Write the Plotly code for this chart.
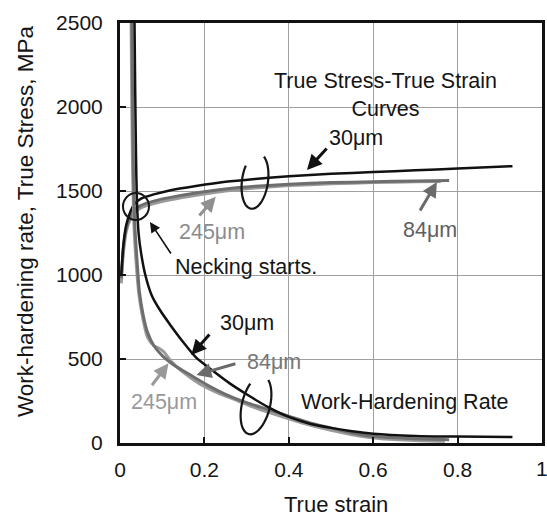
import numpy as np
import plotly.graph_objects as go

# True stress - true strain curves
ss_30_x = [0.003, 0.008, 0.015, 0.025, 0.035, 0.05, 0.08, 0.12, 0.18, 0.25, 0.32, 0.40, 0.50, 0.60, 0.70, 0.80, 0.93]
ss_30_y = [1000, 1180, 1300, 1380, 1425, 1455, 1480, 1505, 1530, 1555, 1572, 1588, 1602, 1613, 1623, 1634, 1648]

ss_84_x = [0.003, 0.008, 0.015, 0.025, 0.035, 0.05, 0.08, 0.12, 0.18, 0.25, 0.32, 0.40, 0.50, 0.60, 0.70, 0.78]
ss_84_y = [980, 1160, 1280, 1350, 1390, 1415, 1440, 1462, 1488, 1512, 1528, 1540, 1550, 1555, 1560, 1563]

ss_245_x = [0.003, 0.008, 0.015, 0.025, 0.035, 0.05, 0.08, 0.12, 0.18, 0.25, 0.32, 0.40, 0.50, 0.60, 0.70, 0.76]
ss_245_y = [950, 1130, 1260, 1335, 1375, 1400, 1425, 1448, 1475, 1500, 1518, 1532, 1543, 1550, 1555, 1557]

# Work-hardening rate curves
wh_30_x = [0.034, 0.036, 0.038, 0.040, 0.044, 0.050, 0.060, 0.075, 0.095, 0.12, 0.15, 0.18, 0.22, 0.26, 0.30, 0.35, 0.40, 0.45, 0.50, 0.55, 0.60, 0.70, 0.80, 0.93]
wh_30_y = [2600, 2100, 1700, 1450, 1250, 1130, 1000, 880, 790, 700, 600, 510, 430, 355, 290, 215, 155, 115, 90, 70, 55, 42, 38, 35]

wh_84_x = [0.028, 0.030, 0.032, 0.035, 0.040, 0.046, 0.055, 0.065, 0.08, 0.10, 0.13, 0.17, 0.21, 0.25, 0.30, 0.35, 0.40, 0.45, 0.50, 0.55, 0.60, 0.70, 0.78]
wh_84_y = [2600, 2000, 1600, 1300, 1100, 900, 760, 660, 580, 520, 460, 400, 340, 290, 240, 200, 160, 120, 90, 60, 40, 25, 20]

wh_245_x = [0.026, 0.028, 0.030, 0.033, 0.038, 0.045, 0.055, 0.065, 0.08, 0.095, 0.105, 0.12, 0.15, 0.19, 0.23, 0.28, 0.33, 0.38, 0.43, 0.50, 0.56, 0.62, 0.70, 0.77]
wh_245_y = [2600, 2000, 1600, 1300, 1080, 880, 730, 630, 580, 560, 540, 490, 420, 350, 300, 250, 200, 160, 120, 75, 45, 25, 15, 10]

x_ticks = [0, 0.2, 0.4, 0.6, 0.8, 1]
x_tick_text = ["0", "0.2", "0.4", "0.6", "0.8", "1"]
y_ticks = [0, 500, 1000, 1500, 2000, 2500]

C30 = "#111111"
C84 = "#6e6e6e"
C245 = "#9a9a9a"
INK = "#151515"
FONT = "Liberation Sans, Arial, sans-serif"

W, H = 547, 516
ML, MR, MT, MB = 120, 5, 23, 73
PW, PH = W - ML - MR, H - MT - MB


def to_data(px, py):
    return (px - ML) / PW, (H - MB - py) / PH * 2500


fig = go.Figure()

for xs, ys, c, w in [(ss_245_x, ss_245_y, C245, 3), (ss_84_x, ss_84_y, C84, 3), (ss_30_x, ss_30_y, C30, 2.5),
                     (wh_245_x, wh_245_y, C245, 3), (wh_84_x, wh_84_y, C84, 3), (wh_30_x, wh_30_y, C30, 2.5)]:
    fig.add_trace(go.Scatter(x=xs, y=ys, mode="lines", line=dict(color=c, width=w, shape="spline", smoothing=0.6),
                             showlegend=False, hoverinfo="skip"))


def loop_path(cx, cy, rx, ry, tilt, a0, a1):
    # open elliptical loop in pixel space, converted to data coordinates
    t = np.radians(np.linspace(a0, a1, 40))
    ex = rx * np.cos(t)
    ey = -ry * np.sin(t)
    c, s = np.cos(np.radians(tilt)), np.sin(np.radians(tilt))
    px = cx + ex * c - ey * s
    py = cy + ex * s + ey * c
    pts = [to_data(a, b) for a, b in zip(px, py)]
    return "M " + " L ".join(f"{x:.5f},{y:.2f}" for x, y in pts)


shapes = [
    dict(type="path", xref="x", yref="y", path=loop_path(255, 181, 13, 28, 8, 150, 425),
         line=dict(color=INK, width=2.2)),
    dict(type="path", xref="x", yref="y", path=loop_path(256, 405, 14, 30, 14, 140, 425),
         line=dict(color=INK, width=2.2)),
]
cx0, cy0 = to_data(123, 220)
cx1, cy1 = to_data(149, 193)
shapes.append(dict(type="circle", xref="x", yref="y", x0=cx0, y0=cy0, x1=cx1, y1=cy1,
                   line=dict(color=INK, width=2)))
fig.update_layout(shapes=shapes)


def text(x, y, s, color=INK, size=21.5):
    fig.add_annotation(x=x, y=y, text=s, showarrow=False, font=dict(family=FONT, size=size, color=color),
                       xanchor="center", yanchor="middle")


def arrow(x0, y0, x1, y1, color, width=3, head=2, size=1.0):
    fig.add_annotation(x=x1, y=y1, ax=x0, ay=y0, axref="x", ayref="y", xref="x", yref="y", text="",
                       showarrow=True, arrowhead=head, arrowsize=size, arrowwidth=width, arrowcolor=color)


text(0.63, 2072, "True Stress-True Strain<br>Curves")
text(0.56, 1815, "30μm")
arrow(0.493, 1762, 0.443, 1625, C30)
text(0.735, 1268, "84μm", color="#606060")
arrow(0.709, 1375, 0.751, 1554, "#6a6a6a")
text(0.218, 1256, "245μm", color="#8c8c8c")
arrow(0.185, 1345, 0.227, 1466, "#909090")
text(0.298, 1048, "Necking starts.")
arrow(0.123, 1119, 0.071, 1316, C30, width=1.6, head=2, size=1.3)

text(0.302, 714, "30μm")
arrow(0.215, 655, 0.169, 524, C30)
text(0.364, 483, "84μm", color="#777777")
arrow(0.277, 474, 0.181, 405, "#6a6a6a")
text(0.105, 245, "245μm", color="#999999")
arrow(0.073, 335, 0.115, 474, "#999999")
text(0.676, 245, "Work-Hardening Rate")

# axis titles placed in paper coordinates
fig.add_annotation(x=-ML / PW + 25 / PW, y=1 - (222 - MT) / PH, xref="paper", yref="paper",
                   text="Work-hardening rate, True Stress, MPa", textangle=-90, showarrow=False,
                   font=dict(family=FONT, size=22.5, color=INK), xanchor="center", yanchor="middle")
fig.add_annotation(x=(336 - ML) / PW, y=-(505 - MT - PH) / PH, xref="paper", yref="paper",
                   text="True strain", showarrow=False,
                   font=dict(family=FONT, size=22, color=INK), xanchor="center", yanchor="middle")
# last x tick label sits at the page edge, drawn so it is not dropped
fig.add_annotation(x=x_ticks[-1], y=-(468 - MT - PH) / PH, xref="x", yref="paper",
                   text=x_tick_text[-1], showarrow=False,
                   font=dict(family=FONT, size=21, color=INK), xanchor="center", yanchor="middle")

axis_common = dict(showgrid=True, gridcolor="#a0a0a0", gridwidth=1, showline=True, linecolor="#111111",
                   linewidth=3, mirror=True, ticks="inside", ticklen=6, tickwidth=2, tickcolor="#111111",
                   tickfont=dict(family=FONT, size=21, color=INK), zeroline=False, automargin=False)

fig.update_xaxes(range=[0, 1], tickvals=x_ticks, ticktext=x_tick_text, ticklabelstandoff=6, **axis_common)
fig.update_yaxes(range=[0, 2500], tickvals=y_ticks, ticklabelstandoff=10, **axis_common)

fig.update_layout(width=W, height=H, margin=dict(l=ML, r=MR, t=MT, b=MB), plot_bgcolor="white",
                  paper_bgcolor="white", showlegend=False)

fig.write_html("out.html")
